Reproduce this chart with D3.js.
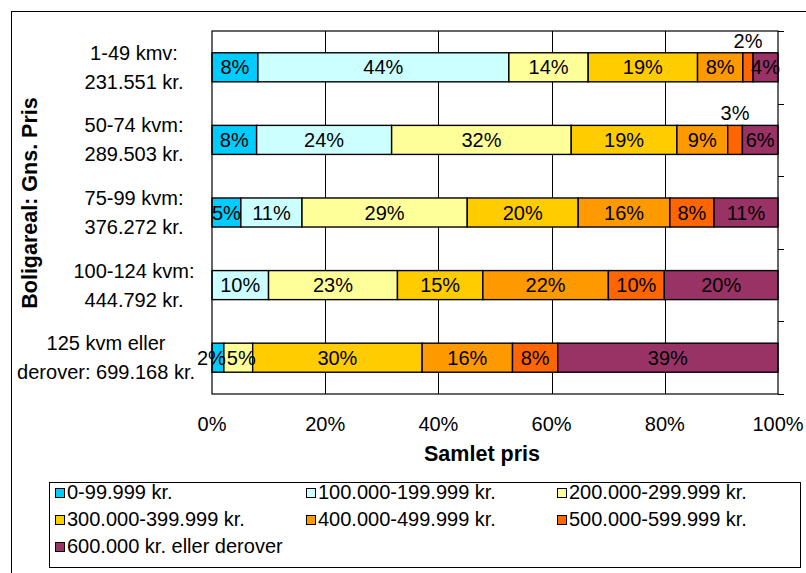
<!DOCTYPE html>
<html><head><meta charset="utf-8">
<script src="https://cdn.jsdelivr.net/npm/d3@7"></script>
<style>
body{margin:0;background:#fff}
text{font-family:"Liberation Sans",Arial,sans-serif;fill:#000}
</style>
</head><body>
<svg id="c" width="806" height="573"></svg>
<script>
// ---- data ----
const categoryLines = [
  ["1-49 kmv:", "231.551 kr."],
  ["50-74 kvm:", "289.503 kr."],
  ["75-99 kvm:", "376.272 kr."],
  ["100-124 kvm:", "444.792 kr."],
  ["125 kvm eller", "derover: 699.168 kr."]
];
const seriesNames = [
  "0-99.999 kr.",
  "100.000-199.999 kr.",
  "200.000-299.999 kr.",
  "300.000-399.999 kr.",
  "400.000-499.999 kr.",
  "500.000-599.999 kr.",
  "600.000 kr. eller derover"
];
const seriesColors = ["#00CCFF","#CCFFFF","#FFFF99","#FFCC00","#FF9900","#FF6600","#993366"];
// percent shares per category (rows in order of categoryLines)
const s0_99 =   [8.1, 7.9, 5.1, 0,    2.1];
const s100_199 =[44.3,23.9,10.8,10.0, 0];
const s200_299 =[14.0,31.8,29.2,22.8, 5.1];
const s300_399 =[19.3,18.7,19.6,15.1,30.0];
const s400_499 =[8.0, 9.0, 16.2,22.2,16.0];
const s500_599 =[1.8, 2.6, 7.8, 9.9, 8.0];
const s600 =    [4.4, 6.3, 11.3,20.1,39.0];
const seriesValues = [s0_99,s100_199,s200_299,s300_399,s400_499,s500_599,s600];
const xTicks = [0,0.2,0.4,0.6,0.8,1];
const xTitle = "Samlet pris";
const yTitle = "Boligareal: Gns. Pris";

// ---- layout ----
const svg = d3.select("#c");
const L = 212, R = 778, T = 31, B = 394;
const FS = 20, TFS = 21.5;

const rows = categoryLines.map((c,i)=>{
  const o = {cat:i};
  seriesNames.forEach((s,j)=>o[s]=seriesValues[j][i]);
  return o;
});
const stacked = d3.stack().keys(seriesNames).offset(d3.stackOffsetExpand)(rows);

const x = d3.scaleLinear().domain([0,1]).range([L,R]);
const y = d3.scaleBand().domain(d3.range(categoryLines.length)).range([T,B]).paddingInner(0.6).paddingOuter(0.3);

// outer border
svg.append("rect").attr("x",11.5).attr("y",11.5).attr("width",820).attr("height",600)
  .attr("fill","#fff").attr("stroke","#000").attr("stroke-width",1);

// plot area
svg.append("rect").attr("x",L).attr("y",T).attr("width",R-L).attr("height",B-T).attr("fill","#fff");

// gridlines
svg.append("g").selectAll("line").data(xTicks.slice(1,-1)).join("line")
  .attr("x1",d=>Math.round(x(d))+0.5).attr("x2",d=>Math.round(x(d))+0.5)
  .attr("y1",T).attr("y2",B).attr("stroke","#000").attr("stroke-width",1);

// bars
const gS = svg.append("g").selectAll("g").data(stacked).join("g")
  .attr("fill",(d,i)=>seriesColors[i]);
gS.selectAll("rect").data(d=>d).join("rect")
  .attr("x",d=>x(d[0])).attr("width",d=>x(d[1])-x(d[0]))
  .attr("y",(d,i)=>y(i)).attr("height",y.bandwidth())
  .attr("stroke","#000").attr("stroke-width",1.4)
  .attr("display",d=>(d[1]-d[0])>0?null:"none");

// plot border
svg.append("rect").attr("x",L).attr("y",T).attr("width",R-L).attr("height",B-T)
  .attr("fill","none").attr("stroke","#000").attr("stroke-width",1.2);

// right-side category axis ticks
const bounds = d3.range(categoryLines.length+1).map(i=>T + i*(B-T)/categoryLines.length);
svg.append("g").selectAll("line").data(bounds).join("line")
  .attr("x1",R).attr("x2",R+6).attr("y1",d=>Math.round(d)+0.5).attr("y2",d=>Math.round(d)+0.5)
  .attr("stroke","#000").attr("stroke-width",1);

// bar labels
categoryLines.forEach((c,ci)=>{
  let prevRight = -Infinity;
  stacked.forEach((ser,si)=>{
    const d = ser[ci];
    const v = seriesValues[si][ci];
    if (!(v>0)) return;
    const x0 = x(d[0]), x1 = x(d[1]);
    const above = v < 3 && si > 0;
    const yy = above ? y(ci) - 5 : y(ci) + y.bandwidth()/2 + 7;
    const t = svg.append("text").attr("y",yy).attr("text-anchor","middle")
      .attr("font-size",FS).text(Math.round(v)+"%");
    const w = t.node().getComputedTextLength();
    let cx = (x0+x1)/2;
    if (si === 0 && (x1-x0) < w*0.6) cx = x1 + 2 - w/2;
    if (!above) {
      if (cx - w/2 < prevRight + 1) cx = prevRight + 1 + w/2;
      prevRight = cx + w/2;
    }
    t.attr("x",cx);
  });
});

// category labels (two lines, centered, kept left of plot)
categoryLines.forEach((lines,ci)=>{
  const cy = y(ci) + y.bandwidth()/2;
  const g = svg.append("g");
  const ts = lines.map((t,k)=>g.append("text").attr("font-size",FS).attr("text-anchor","middle")
      .attr("y", cy + (k===0 ? -7.5 : 21.5)).text(t));
  const w = d3.max(ts, t=>t.node().getComputedTextLength());
  const cx = Math.min(134, 195 - w/2);
  ts.forEach(t=>t.attr("x",cx));
});

// x tick labels
svg.append("g").selectAll("text").data(xTicks).join("text")
  .attr("x",d=>x(d)).attr("y",431).attr("text-anchor","middle").attr("font-size",FS)
  .text(d=>d3.format(".0%")(d));

// axis titles
svg.append("text").attr("x",482).attr("y",461).attr("text-anchor","middle")
  .attr("font-size",TFS).attr("font-weight","bold").text(xTitle);
svg.append("text").attr("transform",`translate(37,203) rotate(-90)`)
  .attr("text-anchor","middle").attr("font-size",TFS).attr("font-weight","bold").text(yTitle);

// legend
svg.append("rect").attr("x",49.5).attr("y",482.5).attr("width",751).attr("height",85)
  .attr("fill","#fff").attr("stroke","#000").attr("stroke-width",1);
const lg = svg.append("g").selectAll("g").data(seriesNames).join("g")
  .attr("transform",(d,i)=>`translate(${55 + (i%3)*251},${499 + Math.floor(i/3)*27})`);
lg.append("rect").attr("x",0.5).attr("y",-10.5).attr("width",9).attr("height",9)
  .attr("fill",(d,i)=>seriesColors[i]).attr("stroke","#000").attr("stroke-width",1);
lg.append("text").attr("x",12).attr("y",0).attr("font-size",FS).text(d=>d);
</script>
</body></html>
